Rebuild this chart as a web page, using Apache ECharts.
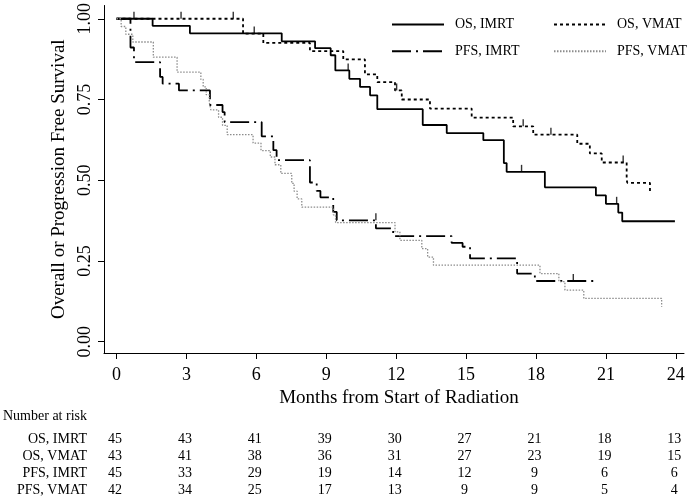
<!DOCTYPE html>
<html>
<head>
<meta charset="utf-8">
<script src="https://cdn.jsdelivr.net/npm/echarts@6/dist/echarts.min.js"></script>
<style>
html,body{margin:0;padding:0;background:#fff;}
#c{width:688px;height:496px;}
</style>
</head>
<body>
<div id="c"></div>
<script>
// ---- data ----
const xTicks = [0, 3, 6, 9, 12, 15, 18, 21, 24];
const yTicks = [0, 0.25, 0.5, 0.75, 1];

const osImrtTime = [0, 1.55, 3.15, 7.09, 8.52, 9.19, 9.39, 9.99, 10.45, 10.88, 11.19, 13.14, 14.17, 15.74, 16.62, 16.74, 18.38, 20.57, 21.0, 21.53, 21.70, 23.96];
const osImrtSurv = [1, 0.978, 0.955, 0.930, 0.909, 0.887, 0.840, 0.814, 0.789, 0.763, 0.720, 0.671, 0.646, 0.624, 0.553, 0.526, 0.478, 0.453, 0.427, 0.400, 0.373, 0.373];
const osImrtCensT = [0.75, 9.94, 17.38, 21.46];
const osImrtCensS = [1, 0.840, 0.526, 0.427];

const osVmatTime = [0, 5.43, 6.30, 8.30, 9.73, 10.66, 11.19, 11.95, 12.24, 13.45, 15.24, 17.02, 17.88, 19.77, 20.31, 20.82, 21.89, 21.92, 22.89];
const osVmatSurv = [1, 0.954, 0.925, 0.900, 0.874, 0.828, 0.804, 0.778, 0.750, 0.722, 0.694, 0.667, 0.641, 0.613, 0.583, 0.555, 0.500, 0.492, 0.464];
const osVmatCensT = [2.77, 5.01, 5.91, 12.02, 17.45, 18.64, 21.74];
const osVmatCensS = [1, 1, 0.954, 0.778, 0.667, 0.641, 0.555];

const pfsImrtTime = [0, 0.6, 0.75, 1.87, 1.98, 2.68, 4.01, 4.55, 4.64, 6.23, 6.73, 6.87, 8.30, 8.59, 8.75, 9.30, 9.45, 11.13, 11.87, 14.38, 14.85, 15.17, 17.19, 17.95, 20.53];
const pfsImrtSurv = [1, 0.911, 0.866, 0.820, 0.799, 0.778, 0.733, 0.711, 0.680, 0.636, 0.593, 0.562, 0.493, 0.467, 0.447, 0.402, 0.376, 0.351, 0.327, 0.306, 0.294, 0.258, 0.211, 0.188, 0.188];
const pfsImrtCensT = [11.13, 19.6];
const pfsImrtCensS = [0.376, 0.188];

const pfsVmatTime = [0, 0.2, 0.4, 0.7, 1.58, 2.60, 3.62, 3.72, 3.85, 3.98, 4.05, 4.38, 4.55, 4.75, 5.86, 6.2, 6.6, 6.8, 7.05, 7.52, 7.62, 7.75, 7.95, 9.30, 9.40, 11.95, 12.16, 13.1, 13.35, 13.6, 18.17, 18.98, 19.24, 20.05, 23.39];
const pfsVmatSurv = [1, 0.976, 0.952, 0.928, 0.881, 0.835, 0.812, 0.789, 0.765, 0.742, 0.718, 0.695, 0.670, 0.641, 0.615, 0.592, 0.572, 0.548, 0.521, 0.490, 0.466, 0.442, 0.417, 0.393, 0.369, 0.340, 0.314, 0.288, 0.262, 0.237, 0.211, 0.186, 0.160, 0.134, 0.108];

const riskTitle = 'Number at risk';
const riskLabels = ['OS, IMRT', 'OS, VMAT', 'PFS, IMRT', 'PFS, VMAT'];
const riskOsImrt = [45, 43, 41, 39, 30, 27, 21, 18, 13];
const riskOsVmat = [43, 41, 38, 36, 31, 27, 23, 19, 15];
const riskPfsImrt = [45, 33, 29, 19, 14, 12, 9, 6, 6];
const riskPfsVmat = [42, 34, 25, 17, 13, 9, 9, 5, 4];

// ---- build ----
const FONT = 'Liberation Serif';
const zip = (a, b) => a.map((v, i) => [v, b[i]]);

const lineDefs = [
  {name: 'OS, IMRT', t: osImrtTime, s: osImrtSurv, ct: osImrtCensT, cs: osImrtCensS, color: '#000', width: 1.8, type: 'solid'},
  {name: 'OS, VMAT', t: osVmatTime, s: osVmatSurv, ct: osVmatCensT, cs: osVmatCensS, color: '#000', width: 1.8, type: [3, 3]},
  {name: 'PFS, IMRT', t: pfsImrtTime, s: pfsImrtSurv, ct: pfsImrtCensT, cs: pfsImrtCensS, color: '#000', width: 1.8, type: [19, 5, 2, 5]},
  {name: 'PFS, VMAT', t: pfsVmatTime, s: pfsVmatSurv, ct: [], cs: [], color: '#8c8c8c', width: 1.3, type: [1.5, 1.5]}
];

const series = [];
lineDefs.forEach(d => {
  series.push({
    name: d.name, type: 'line', step: 'end', data: zip(d.t, d.s),
    symbol: 'none', showSymbol: false, silent: true, animation: false,
    lineStyle: {color: d.color, width: d.width, type: d.type},
    itemStyle: {color: d.color}
  });
  if (d.ct.length) {
    series.push({
      name: d.name + ' censored', type: 'scatter', data: zip(d.ct, d.cs),
      symbol: 'rect', symbolSize: [1.4, 7], symbolOffset: [0, -3.5],
      itemStyle: {color: d.color}, silent: true, animation: false
    });
  }
});

const legendCommon = {
  orient: 'vertical', top: 12.5, itemWidth: 52, itemHeight: 14, itemGap: 12.7,
  itemStyle: {opacity: 0},
  textStyle: {fontFamily: FONT, fontSize: 14, color: '#000', padding: [0, 0, 0, 6]},
  selectedMode: false
};

const chart = echarts.init(document.getElementById('c'), null, {renderer: 'canvas'});
chart.setOption({
  backgroundColor: '#fff',
  animation: false,
  grid: {left: 104, right: 4, top: 5, bottom: 143},
  xAxis: {
    type: 'value', min: -0.536, max: 24.35,
    name: 'Months from Start of Radiation', nameLocation: 'middle', nameGap: 29,
    nameTextStyle: {fontFamily: FONT, fontSize: 19, color: '#000', padding: [0, 0, 0, 10]},
    axisLine: {show: true, onZero: false, lineStyle: {color: '#000', width: 1}},
    axisTick: {show: true, length: 6, customValues: xTicks, lineStyle: {color: '#000'}},
    axisLabel: {customValues: xTicks, fontFamily: FONT, fontSize: 18, color: '#000', margin: 13},
    splitLine: {show: false}
  },
  yAxis: {
    type: 'value', min: -0.0349, max: 1.0411,
    name: 'Overall or Progression Free Survival', nameLocation: 'middle', nameGap: 33, nameRotate: 90,
    nameTextStyle: {fontFamily: FONT, fontSize: 19, color: '#000'},
    axisLine: {show: true, onZero: false, lineStyle: {color: '#000', width: 1}},
    axisTick: {show: true, length: 6, customValues: yTicks, lineStyle: {color: '#000'}},
    axisLabel: {customValues: yTicks, rotate: 90, fontFamily: FONT, fontSize: 18, color: '#000', margin: 10,
      formatter: v => v.toFixed(2)},
    splitLine: {show: false}
  },
  legend: [
    Object.assign({data: ['OS, IMRT', 'PFS, IMRT'], left: 386}, legendCommon),
    Object.assign({data: ['OS, VMAT', 'PFS, VMAT'], left: 548}, legendCommon)
  ],
  series: series
});

// ---- number at risk table ----
const riskRows = [riskOsImrt, riskOsVmat, riskPfsImrt, riskPfsVmat];
const rowY = [439, 456.5, 473.5, 490];
const font14 = '14px "' + FONT + '"';
const g = [];
g.push({type: 'text', x: 3, y: 416.5, style: {text: riskTitle, font: font14, fill: '#000', align: 'left', verticalAlign: 'middle'}});
riskRows.forEach((row, r) => {
  g.push({type: 'text', x: 87, y: rowY[r], style: {text: riskLabels[r], font: font14, fill: '#000', align: 'right', verticalAlign: 'middle'}});
  row.forEach((n, i) => {
    const px = chart.convertToPixel({xAxisIndex: 0}, xTicks[i]);
    g.push({type: 'text', x: px - 1.5, y: rowY[r], style: {text: String(n), font: font14, fill: '#000', align: 'center', verticalAlign: 'middle'}});
  });
});
chart.setOption({graphic: g});
</script>
</body>
</html>
